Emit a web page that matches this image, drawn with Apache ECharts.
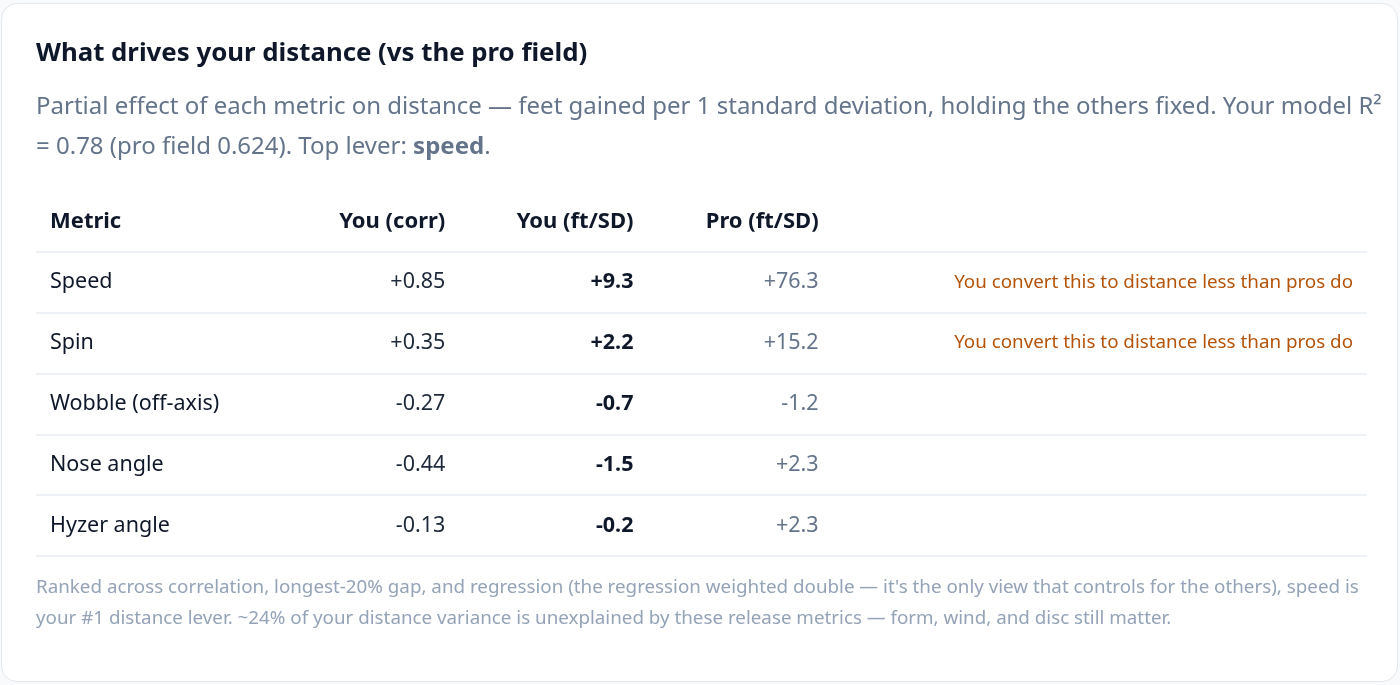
<!DOCTYPE html>
<html>
<head>
<meta charset="utf-8">
<script src="https://cdn.jsdelivr.net/npm/echarts@6/dist/echarts.min.js"></script>
<style>
  html, body { margin: 0; padding: 0; background: #f8fafc; }
  #chart {
    position: absolute; left: 1px; top: 3px;
    width: 1395px; height: 677px;
    background: #ffffff;
    border: 1px solid #e2e8f0;
    border-radius: 16px;
    overflow: hidden;
  }
</style>
</head>
<body>
<div id="chart"></div>
<script>
// table data
const headers = ['Metric', 'You (corr)', 'You (ft/SD)', 'Pro (ft/SD)', ''];
const metrics = ['Speed', 'Spin', 'Wobble (off-axis)', 'Nose angle', 'Hyzer angle'];
const youCorr = [0.85, 0.35, -0.27, -0.44, -0.13];
const youFtSd = [9.3, 2.2, -0.7, -1.5, -0.2];
const proFtSd = [76.3, 15.2, -1.2, 2.3, 2.3];
const notes = [
  'You convert this to distance less than pros do',
  'You convert this to distance less than pros do',
  '', '', ''
];

const FONT = '"Noto Sans", "DejaVu Sans", sans-serif';

const signed = (v, d) => (v > 0 ? '+' : '') + v.toFixed(d);

// x anchors (px from the table's left edge) and alignment per column
const columns = [
  { x: 14,   align: 'left' },
  { x: 409,  align: 'right' },
  { x: 597,  align: 'right' },
  { x: 782,  align: 'right' },
  { x: 1316, align: 'right' }
];

const rows = [''].concat(metrics);

function textColumn(col, cells) {
  return {
    type: 'custom',
    coordinateSystem: 'cartesian2d',
    silent: true,
    data: cells.map((c, i) => [col.x, i, c.text]),
    renderItem: function (params, api) {
      const c = cells[params.dataIndex];
      const p = api.coord([api.value(0), api.value(1)]);
      return {
        type: 'text',
        x: p[0],
        y: p[1],
        style: {
          text: c.text,
          align: col.align,
          verticalAlign: 'middle',
          fill: c.color,
          fontSize: c.size || 21.5,
          fontWeight: c.weight || 'normal',
          fontFamily: FONT
        }
      };
    }
  };
}

function headerCell(t) {
  return { text: t, color: '#0f172a', weight: 'bold', size: 22 };
}

const colMetric = [headerCell(headers[0])].concat(
  metrics.map(m => ({ text: m, color: '#0f172a' })));
const colCorr = [headerCell(headers[1])].concat(
  youCorr.map(v => ({ text: signed(v, 2), color: '#1e293b' })));
const colYou = [headerCell(headers[2])].concat(
  youFtSd.map(v => ({ text: signed(v, 1), color: '#0f172a', weight: 'bold' })));
const colPro = [headerCell(headers[3])].concat(
  proFtSd.map(v => ({ text: signed(v, 1), color: '#64748b' })));
const colNote = [headerCell(headers[4])].concat(
  notes.map(n => ({ text: n, color: '#b45309', size: 18.8 })));

const chart = echarts.init(document.getElementById('chart'), null, { renderer: 'canvas' });

const option = {
  animation: false,
  title: [
    {
      text: 'What drives your distance (vs the pro field)',
      left: 34, top: 34, padding: 0,
      textStyle: { fontFamily: FONT, fontSize: 25.8, fontWeight: 'bold', color: '#0f172a', lineHeight: 32 }
    },
    {
      text: 'Partial effect of each metric on distance — feet gained per 1 standard deviation, holding the others fixed. Your model R²\n= 0.78 (pro field 0.624). Top lever: {b|speed}.',
      left: 34, top: 83, padding: 0,
      textStyle: {
        fontFamily: FONT, fontSize: 24, fontWeight: 'normal', color: '#64748b', lineHeight: 40,
        rich: { b: { fontFamily: FONT, fontSize: 24, fontWeight: 'bold', color: '#64748b', lineHeight: 40 } }
      }
    },
    {
      text: 'Ranked across correlation, longest-20% gap, and regression (the regression weighted double — it\'s the only view that controls for the others), speed is\nyour #1 distance lever. ~24% of your distance variance is unexplained by these release metrics — form, wind, and disc still matter.',
      left: 34, top: 568, padding: 0,
      textStyle: { fontFamily: FONT, fontSize: 18.8, fontWeight: 'normal', color: '#94a3b8', lineHeight: 31 }
    }
  ],
  grid: { left: 34, right: 30, top: 187, height: 365 },
  xAxis: { type: 'value', min: 0, max: 1330, show: false },
  yAxis: {
    type: 'category',
    data: rows,
    inverse: true,
    axisLine: { show: false },
    axisTick: { show: false },
    axisLabel: { show: false },
    splitLine: {
      show: true,
      showMinLine: false,
      showMaxLine: true,
      lineStyle: { color: '#e8edf3', width: 1.5 }
    }
  },
  series: [
    textColumn(columns[0], colMetric),
    textColumn(columns[1], colCorr),
    textColumn(columns[2], colYou),
    textColumn(columns[3], colPro),
    textColumn(columns[4], colNote)
  ]
};

chart.setOption(option);
</script>
</body>
</html>
